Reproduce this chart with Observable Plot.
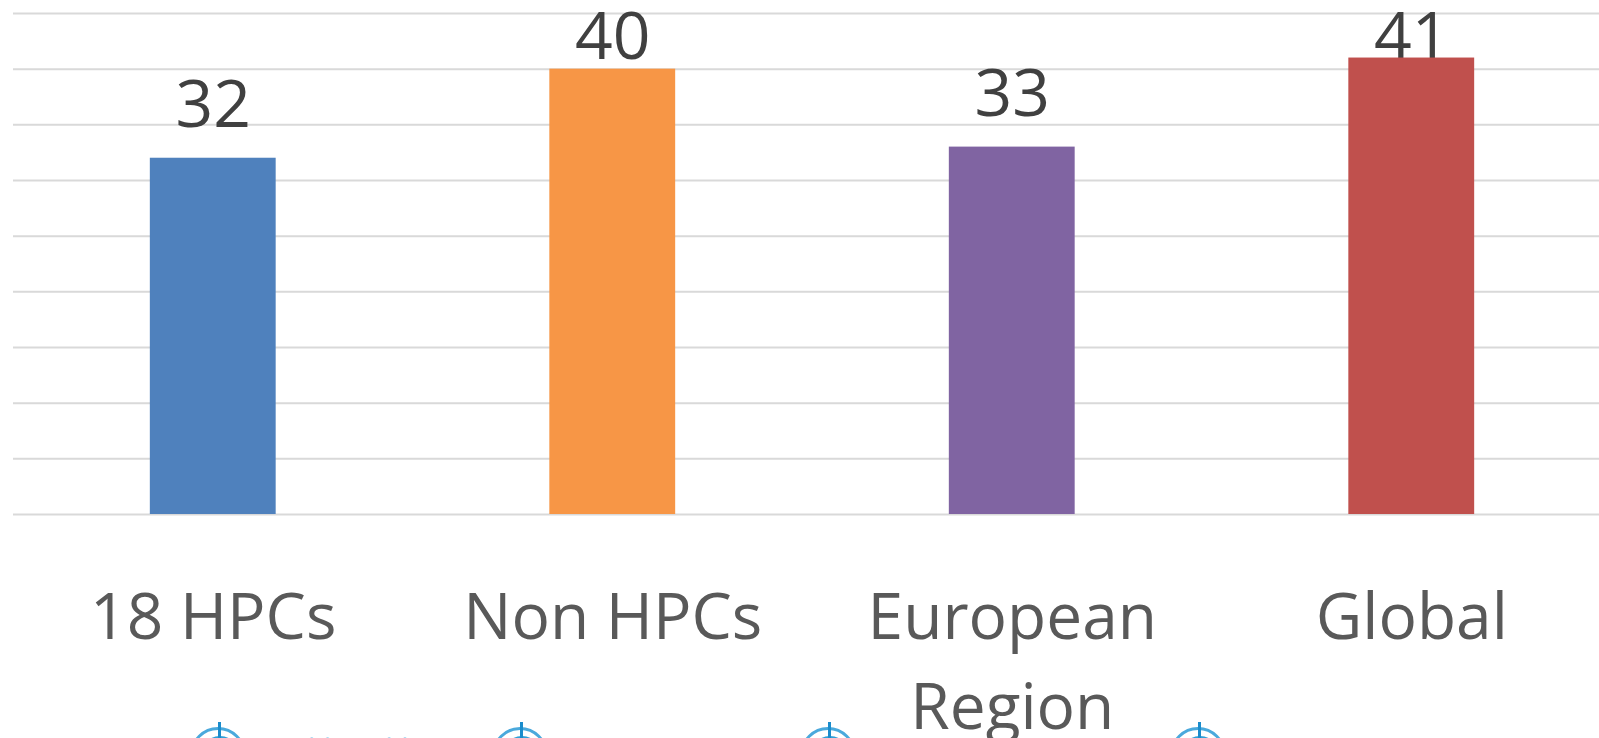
<!DOCTYPE html>
<html>
<head>
<meta charset="utf-8">
<script src="https://cdn.jsdelivr.net/npm/d3@7"></script>
<script src="https://cdn.jsdelivr.net/npm/@observablehq/plot@0.6"></script>
<style>
  html, body { margin: 0; padding: 0; background: #fff; overflow: hidden; width: 1599px; height: 738px; }
  #wrap { position: relative; width: 1599px; height: 738px; overflow: hidden; }
  #chart { position: absolute; left: 0; top: 0; width: 1612px; }
  #chart svg { max-width: none !important; }
  .logo { position: absolute; top: 727px; width: 56px; height: 56px; border-radius: 50%; border: 3px solid #4aa9dc; box-sizing: border-box; }
  .logo::before { content: ""; position: absolute; left: 8px; top: 6px; width: 34px; height: 34px; border-radius: 50%; border: 2px solid #2f9fd8; }
  .logo::after { content: ""; position: absolute; left: 25px; top: -8px; width: 3px; height: 24px; background: #1b8ccc; }
  .logotext { position: absolute; top: 728px; font-family: "Open Sans", sans-serif; font-size: 26px; color: #7cc3e8; opacity: 0.6; white-space: nowrap; }
</style>
</head>
<body>
<div id="wrap">
  <div id="chart"></div>
</div>
<script>
const categories = ["18 HPCs", "Non HPCs", "European\nRegion", "Global"];
const values = [32, 40, 33, 41];
const colors = ["#4f81bd", "#f79646", "#8064a2", "#c0504d"];
const gridTicks = [0, 5, 10, 15, 20, 25, 30, 35, 40, 45];

const data = categories.map((c, i) => ({category: c, value: values[i], color: colors[i]}));
// labels are kept inside the plot area (clamped near the top), like the original
const labelCap = 38.1;

const chart = Plot.plot({
  width: 1612,
  height: 738,
  marginLeft: 13,
  marginRight: 1,
  marginTop: 13,
  marginBottom: 224,
  style: {background: "transparent", fontFamily: "'Open Sans', sans-serif", overflow: "visible", maxWidth: "none"},
  x: {domain: categories, paddingInner: 0.685, paddingOuter: 0.3425, round: false, label: null},
  y: {domain: [0, 45], axis: null, label: null},
  marks: [
    Plot.ruleY(gridTicks, {stroke: "#d9d9d9", strokeWidth: 2}),
    Plot.axisX({tickSize: 0, tickPadding: 61, fontSize: 64, lineHeight: 1.4, fill: "#595959", label: null}),
    Plot.text(data, {
      x: "category",
      y: d => Math.min(d.value, labelCap),
      text: d => String(d.value),
      dy: -31,
      lineAnchor: "bottom",
      fontSize: 66,
      fill: "#404040"
    }),
    Plot.barY(data, {x: "category", y: "value", fill: "color"})
  ]
});
document.getElementById("chart").appendChild(chart);

// partially visible logos at the bottom edge (decoration)
const wrap = document.getElementById("wrap");
const logoX = [190, 492, 800, 1170];
logoX.forEach(x => {
  const d = document.createElement("div");
  d.className = "logo";
  d.style.left = x + "px";
  wrap.appendChild(d);
});
[[258, "World Health"], [560, "Organization"]].forEach(([x, t]) => {
  const s = document.createElement("div");
  s.className = "logotext";
  s.style.left = x + "px";
  s.textContent = t;
  wrap.appendChild(s);
});
</script>
</body>
</html>
